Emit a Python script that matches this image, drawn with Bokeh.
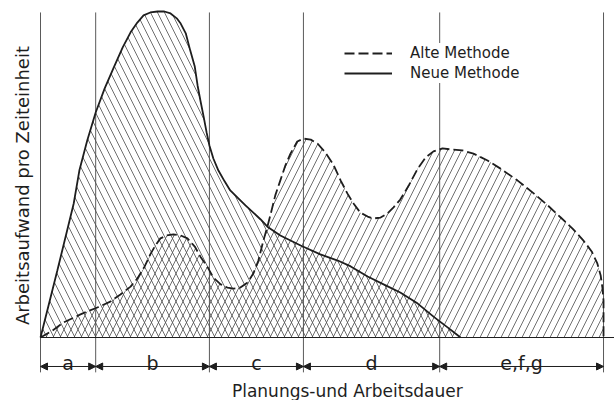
import math
from bokeh.plotting import figure
from bokeh.models import (Range1d, Arrow, NormalHead, ColumnDataSource,
                          Legend, LegendItem, Label)
from bokeh.core.properties import value
from bokeh.embed import file_html
from bokeh.resources import INLINE

# ---- data (arbitrary units: time 0..100, effort 0..100) ----
neue_x = [0, 3.0, 5.9, 6.9, 8.3, 9.8, 11.4, 13.0, 14.6, 16.0, 17.2, 18.3, 19.5,
          20.8, 22.0, 23.1, 24.2, 24.9, 25.8, 26.6, 27.4, 27.9, 28.4, 29.0, 29.5,
          30.0, 30.7, 31.6, 32.7, 33.7, 35.0, 36.4, 37.8, 39.1, 40.3, 42.6, 46.2,
          49.7, 52.8, 55.1, 58.1, 61.3, 63.9, 67.0, 69.8, 72.3, 73.7, 74.6]
neue_y = [0, 20.6, 41.1, 51.2, 60.4, 69.0, 76.4, 82.8, 89.0, 93.6, 96.6, 98.8, 99.7,
          100, 100, 99.4, 97.9, 96.3, 93.3, 88.0, 83.1, 77.3, 72.7, 67.5, 62.9,
          58.9, 54.9, 51.2, 47.9, 45.1, 42.9, 40.5, 38.3, 36.2, 34.0, 31.3, 28.2,
          25.5, 23.6, 21.8, 18.7, 16.0, 13.8, 10.4, 6.4, 3.1, 1.2, 0]

alte_x = [0, 2.1, 4.1, 7.1, 10.1, 12.4, 14.2, 16.0, 17.2, 18.5, 19.5, 20.4, 21.3,
          22.4, 23.6, 24.9, 26.1, 27.4, 28.4, 29.7, 30.7, 32.0, 33.2, 34.3, 35.5,
          36.8, 37.8, 38.7, 39.6, 40.3, 40.9, 41.7, 42.6, 43.5, 44.4, 45.6, 46.7,
          48.0, 49.2, 50.6, 52.0, 53.3, 54.5, 55.6, 56.8, 58.1, 59.1, 60.4, 61.6,
          62.7, 63.9, 65.4, 67.0, 68.4, 69.8, 71.4, 72.8, 74.9, 76.9, 79.4, 81.7,
          84.7, 87.6, 90.1, 92.4, 94.5, 96.4, 97.9, 98.9, 99.5, 99.8, 100, 100, 100]
alte_y = [0, 2.1, 4.6, 7.1, 9.2, 11.0, 13.2, 15.6, 18.1, 21.8, 25.5, 28.2, 30.4,
          31.3, 31.6, 31.3, 30.4, 27.9, 24.8, 21.5, 18.4, 16.3, 15.3, 15.0, 15.3,
          16.9, 19.6, 23.6, 29.8, 34.0, 38.0, 43.6, 48.2, 52.8, 56.4, 60.1, 61.0,
          60.7, 59.5, 56.7, 53.1, 48.2, 44.2, 41.1, 38.3, 37.1, 36.5, 36.8, 38.0,
          39.9, 42.3, 46.6, 51.8, 55.2, 57.1, 58.0, 57.7, 57.4, 56.4, 54.3, 51.8,
          48.2, 44.2, 40.5, 36.8, 33.4, 29.8, 26.4, 22.7, 19.0, 15.3, 11.3, 5.2, 0]

phase_bounds = [0, 9.8, 30.0, 46.7, 70.9, 100]
phase_labels = ["a", "b", "c", "d", "e,f,g"]

series_names = ["Alte Methode", "Neue Methode"]
x_title = "Planungs-und Arbeitsdauer"
y_title = "Arbeitsaufwand pro Zeiteinheit"

FONT = "DejaVu Sans"
INK = "#1e1e1e"
GRAY = "#5a5a5a"

p = figure(width=614, height=400, output_backend="svg", toolbar_location=None,
           x_range=Range1d(-7.105, 101.95), y_range=Range1d(-19.33, 103.37),
           x_axis_type=None, y_axis_type=None, min_border=0,
           min_border_left=0, min_border_right=0, min_border_top=0, min_border_bottom=0)
p.grid.visible = False
p.outline_line_color = None
p.background_fill_color = "white"
p.border_fill_color = "white"

# phase boundary lines
p.segment(x0=phase_bounds, y0=[99.7] * len(phase_bounds),
          x1=phase_bounds, y1=[-10.7] * len(phase_bounds),
          line_color=GRAY, line_width=1)

# hatched areas
p.patch(alte_x, alte_y, fill_alpha=0, line_color=None,
        hatch_pattern="right_diagonal_line", hatch_color="#4a4a4a",
        hatch_scale=14, hatch_weight=0.8)
p.patch(neue_x, neue_y, fill_alpha=0, line_color=None,
        hatch_pattern="left_diagonal_line", hatch_color="#4a4a4a",
        hatch_scale=14, hatch_weight=0.8)

# outlines
r_alte = p.line(alte_x, alte_y, line_color=INK, line_width=1.8, line_dash="10 4")
r_neue = p.line(neue_x, neue_y, line_color=INK, line_width=1.8)

# baseline
p.segment(x0=[phase_bounds[0]], y0=[0], x1=[102], y1=[0], line_color=INK, line_width=1.2)

# dimension arrows
arr_src = ColumnDataSource(dict(x0=phase_bounds[:-1], x1=phase_bounds[1:],
                                y=[-8.9] * (len(phase_bounds) - 1)))
p.add_layout(Arrow(x_start="x0", y_start="y", x_end="x1", y_end="y", source=arr_src,
                   line_color=INK, line_width=1,
                   start=NormalHead(size=7, fill_color=INK, line_color=INK, line_width=1),
                   end=NormalHead(size=7, fill_color=INK, line_color=INK, line_width=1)))

mids = [(a + b) / 2 for a, b in zip(phase_bounds[:-1], phase_bounds[1:])]
p.text(x=mids, y=[-7.7] * len(mids), text=phase_labels,
       text_font=value(FONT), text_font_size="19px", text_color=INK,
       text_align="center", text_baseline="alphabetic")

# axis titles
p.add_layout(Label(x=54.5, y=-16.3, text=x_title, text_font=FONT,
                   text_font_size="17px", text_color=INK,
                   text_align="center", text_baseline="alphabetic"))
p.add_layout(Label(x=-3.2, y=46.6, text=y_title, text_font=FONT, angle=math.pi / 2,
                   text_font_size="18px", text_color=INK,
                   text_align="center", text_baseline="middle"))

# legend
legend = Legend(items=[LegendItem(label=series_names[0], renderers=[r_alte]),
                       LegendItem(label=series_names[1], renderers=[r_neue])],
                location=(344, 317), orientation="vertical",
                glyph_width=48, glyph_height=20, label_height=20,
                label_standoff=18, spacing=0, padding=8, margin=0,
                border_line_color=None, background_fill_color="white",
                background_fill_alpha=1.0,
                label_text_font=FONT, label_text_font_size="15px",
                label_text_color=INK)
p.add_layout(legend)

open("out.html", "w").write(file_html(p, INLINE))
